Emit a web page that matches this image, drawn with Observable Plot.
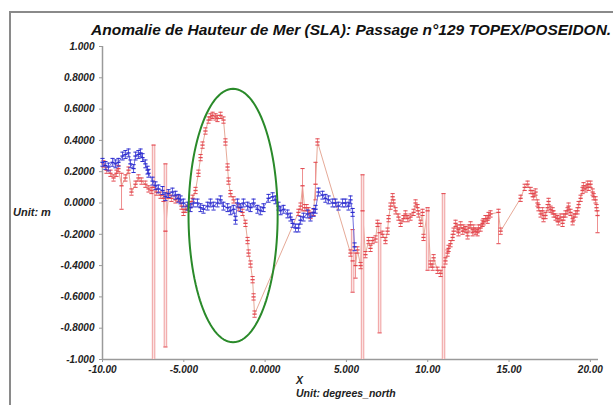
<!DOCTYPE html>
<html><head><meta charset="utf-8">
<script src="https://cdn.jsdelivr.net/npm/d3@7"></script>
<script src="https://cdn.jsdelivr.net/npm/@observablehq/plot@0.6"></script>
<style>
html,body{margin:0;padding:0;background:#fff;overflow:hidden;}
#wrap{position:relative;width:613px;height:405px;overflow:hidden;}
#chart{position:absolute;left:0;top:0;}
#frame{position:absolute;left:9px;top:11px;width:700px;height:500px;border:2px solid #8a8a8a;}
#title{position:absolute;left:91px;top:21px;font:italic bold 15.5px "Liberation Sans",Arial,sans-serif;color:#111;white-space:nowrap;}
.lab{position:absolute;font-style:italic;font-weight:bold;font-family:"Liberation Sans",Arial,sans-serif;color:#222;white-space:nowrap;}
</style></head><body>
<div id="wrap">
<div id="chart"></div>
<div id="frame"></div>
<div id="title">Anomalie de Hauteur de Mer (SLA): Passage n°129 TOPEX/POSEIDON.</div>
<div class="lab" style="left:13px;top:206px;font-size:11px">Unit: m</div>
<div class="lab" style="left:296px;top:374px;font-size:10.5px">X</div>
<div class="lab" style="left:296px;top:387px;font-size:10.5px">Unit: degrees_north</div>
</div>
<script>
// ---- data: red series (points with error bars) ----
const redX = [
 -9.94,-9.75,-9.51,-9.32,-9.14,-9.02,-8.83,-8.59,-8.40,-8.22,-7.97,-7.79,-7.60,-7.36,-7.17,-6.99,-6.86,-6.68,-6.43,-6.25,-6.13,-5.94,-5.76,-5.51,-5.33,-5.14,-5.02,
 -4.90,-4.71,-4.59,-4.46,-4.28,-4.10,-3.97,-3.85,-3.67,-3.48,-3.36,-3.23,-3.05,-2.93,-2.74,-2.56,-2.44,-2.31,-2.25,-2.13,-1.94,-1.64,-1.39,-1.21,-1.08,-1.02,-0.90,-0.77,-0.71,-0.65,
 2.05,2.18,2.30,2.43,2.55,2.67,2.79,2.98,3.10,3.22,
 5.25,5.38,5.56,5.68,5.87,5.99,6.17,6.36,6.48,6.61,6.79,6.91,7.04,7.22,7.40,7.53,7.59,7.71,7.84,7.90,8.02,8.20,8.33,8.51,8.63,8.76,8.94,9.13,9.25,9.37,9.43,9.56,9.68,9.74,9.99,10.17,10.30,10.36,10.60,10.79,10.97,11.09,11.22,11.28,11.40,11.53,11.59,11.71,11.83,11.89,12.02,12.14,12.20,12.33,12.45,12.51,12.63,12.76,12.82,12.94,13.06,13.12,13.25,13.37,13.43,13.55,13.68,13.74,13.86,
 14.35,14.48,15.71,15.96,16.14,16.33,16.45,16.51,16.63,16.75,16.81,16.94,17.06,17.12,17.24,17.37,17.43,17.55,17.68,17.74,17.86,17.98,18.04,18.17,18.29,18.35,18.47,18.60,18.66,18.78,18.91,18.97,19.09,19.21,19.28,19.40,19.52,19.58,19.71,19.83,19.89,20.01,20.14,20.20,20.32,20.38,20.44
];
const redY = [
 0.25,0.21,0.19,0.16,0.19,0.22,0.11,0.16,0.21,0.07,0.12,0.16,0.14,0.12,0.09,0.08,0.10,0.07,0.05,0.03,-0.18,0.05,0.03,0.02,0.03,-0.02,-0.06,
 -0.04,-0.03,-0.01,0.03,0.08,0.19,0.29,0.37,0.46,0.53,0.55,0.56,0.55,0.54,0.56,0.53,0.39,0.23,0.14,0.06,0.02,-0.03,-0.06,-0.13,-0.24,-0.32,-0.39,-0.49,-0.60,-0.71,
 -0.06,-0.02,0.11,-0.03,-0.03,-0.05,-0.08,-0.06,0.12,0.39,
 -0.32,-0.37,-0.40,-0.30,-0.40,-0.05,-0.33,-0.24,-0.29,-0.24,-0.23,-0.13,-0.19,-0.20,-0.24,-0.18,-0.10,-0.02,0.04,0.00,-0.05,-0.09,-0.13,-0.10,-0.07,-0.10,-0.09,-0.06,0.00,-0.03,-0.07,-0.13,-0.06,-0.22,-0.05,-0.39,-0.41,-0.35,-0.43,-0.45,-0.41,-0.37,-0.32,-0.29,-0.26,-0.22,-0.18,-0.13,-0.16,-0.19,-0.14,-0.18,-0.16,-0.17,-0.21,-0.16,-0.14,-0.19,-0.16,-0.18,-0.19,-0.16,-0.16,-0.13,-0.12,-0.10,-0.11,-0.08,-0.07,
 -0.06,-0.18,0.03,0.10,0.12,0.08,0.06,0.04,0.07,0.00,-0.03,-0.07,-0.05,-0.10,-0.08,-0.03,0.01,-0.04,-0.05,-0.07,-0.09,-0.10,-0.12,-0.09,-0.13,-0.09,-0.07,-0.05,-0.02,-0.06,-0.12,-0.09,-0.07,-0.05,-0.01,0.03,0.08,0.11,0.09,0.12,0.10,0.12,0.07,0.04,0.02,-0.03,-0.08
];
const redErr = 0.02; // typical half-height of the red error bars
// larger red error bars (x, low, high)
const redBarX  = [-8.83,-6.86,-6.13, 2.30, 3.10, 5.38, 5.56, 5.99, 7.04, 9.99,10.97,14.35,20.44];
const redBarLo = [-0.04,-1.10,-0.92,-0.05, 0.02,-0.57,-0.48,-1.10,-0.83,-0.43,-1.10,-0.26,-0.19];
const redBarHi = [ 0.19, 0.37, 0.25, 0.22, 0.26,-0.17,-0.32, 0.18,-0.13,-0.03, 0.06,-0.04,-0.05];

// ---- data: blue series ----
const blueX = [
 -10.00,-9.82,-9.63,-9.38,-9.20,-9.02,-8.77,-8.59,-8.40,-8.28,-8.09,-7.97,-7.79,-7.66,-7.54,-7.36,-7.23,-7.17,-6.92,-6.74,-6.56,-6.31,-6.13,-5.94,-5.70,-5.51,-5.33,-5.20,-5.02,
 -4.77,-4.59,-4.40,-4.16,-3.97,-3.79,-3.54,-3.36,-3.17,-2.93,-2.74,-2.56,-2.31,-2.13,-1.94,-1.82,-1.70,-1.51,-1.33,-1.08,-0.90,-0.71,-0.47,-0.28,-0.10,
 0.21,0.46,0.64,0.82,0.95,1.13,1.38,1.56,1.69,1.87,2.05,2.18,2.36,2.61,2.79,2.98,3.10,3.28,3.53,3.71,3.90,4.15,4.33,4.51,4.76,4.94,5.13,5.25,5.38,5.50
];
const blueY = [
 0.26,0.24,0.23,0.26,0.25,0.26,0.30,0.31,0.32,0.25,0.22,0.30,0.31,0.32,0.29,0.25,0.21,0.19,0.14,0.11,0.09,0.08,0.04,0.06,0.07,0.05,0.03,0.02,0.00,
 -0.02,-0.03,0.00,0.00,-0.03,-0.04,-0.02,0.00,-0.02,0.00,0.02,-0.02,-0.03,-0.05,-0.04,-0.11,0.00,-0.03,0.00,-0.02,-0.03,0.00,-0.04,-0.05,-0.03,
 0.03,0.04,0.02,-0.02,-0.05,-0.04,-0.07,-0.09,-0.13,-0.16,-0.16,-0.11,-0.09,-0.07,-0.09,-0.06,-0.04,0.07,0.05,0.03,0.02,0.00,0.00,-0.02,0.00,0.00,-0.02,0.02,-0.06,-0.28
];
const blueErr = 0.025;

// ---- axes ----
const xTicks = [-10,-5,0,5,10,15,20];
const xTickLabels = ["-10.00","-5.000","0.0000","5.000","10.00","15.00","20.00"];
const yTicks = [1,0.8,0.6,0.4,0.2,0,-0.2,-0.4,-0.6,-0.8,-1];
const yTickLabels = ["1.000","0.8000","0.6000","0.4000","0.2000","0.0000","-0.2000","-0.4000","-0.6000","-0.8000","-1.000"];

// ---- annotation ellipse (data units) ----
const ellipseCenter = [-1.97, -0.08];
const ellipseRadii = [2.74, 0.81];

const red = redX.map((x, i) => {
  const j = redBarX.indexOf(x);
  return {x, y: redY[i], lo: j >= 0 ? redBarLo[j] : redY[i] - redErr, hi: j >= 0 ? redBarHi[j] : redY[i] + redErr};
});
const redLong = red.filter(d => d.hi - d.lo > 0.3);
const blue = blueX.map((x, i) => ({x, y: blueY[i], lo: blueY[i] - blueErr, hi: blueY[i] + blueErr}));
const caps = s => s.flatMap(d => [{x: d.x, y: d.lo}, {x: d.x, y: d.hi}]).filter(d => d.y >= -1 && d.y <= 1);
const ellipse = d3.range(0, 361, 3).map(a => ({
  x: ellipseCenter[0] + ellipseRadii[0] * Math.cos(a * Math.PI / 180),
  y: ellipseCenter[1] + ellipseRadii[1] * Math.sin(a * Math.PI / 180)
}));
const dash = {draw(ctx, size) { const r = Math.sqrt(size / Math.PI); ctx.moveTo(-r, 0); ctx.lineTo(r, 0); }};

const chart = Plot.plot({
  width: 613, height: 405,
  marginLeft: 102, marginRight: 15, marginTop: 46, marginBottom: 46,
  x: {domain: [-10, 20.5]},
  y: {domain: [-1, 1]},
  style: {fontFamily: '"Liberation Sans", Arial, sans-serif', fontSize: "10px", fontStyle: "italic", fontWeight: "bold", background: "transparent", overflow: "visible"},
  marks: [
    Plot.axisX(xTicks, {tickFormat: d => xTickLabels[xTicks.indexOf(d)], tickSize: 3, tickPadding: 3, stroke: "#999", fill: "#222", label: null}),
    Plot.axisY(yTicks, {tickFormat: d => yTickLabels[yTicks.indexOf(d)], tickSize: 3, tickPadding: 5, stroke: "#999", fill: "#222", label: null}),
    Plot.ruleX([-10], {stroke: "#9a9a9a", strokeWidth: 1.5}),
    Plot.ruleY([-1], {stroke: "#9a9a9a", strokeWidth: 1.5}),
    // red series
    Plot.line(red, {x: "x", y: "y", stroke: "#e6aa98", strokeWidth: 1, clip: true}),
    Plot.ruleX(redLong, {x: "x", y1: "lo", y2: "hi", stroke: "#f0a2a2", strokeWidth: 3.5, clip: true}),
    Plot.ruleX(redLong, {x: "x", y1: "lo", y2: "hi", stroke: "#fbe3e3", strokeWidth: 1.5, clip: true}),
    Plot.ruleX(red, {x: "x", y1: "lo", y2: "hi", stroke: "#ee9090", strokeWidth: 1, clip: true, filter: d => d.hi - d.lo <= 0.3}),
    Plot.dot(caps(red), {x: "x", y: "y", symbol: dash, r: 2.1, stroke: "#e3464e", fill: "none", strokeWidth: 1}),
    Plot.dot(red, {x: "x", y: "y", symbol: dash, r: 2.1, stroke: "#e3464e", fill: "none", strokeWidth: 1.3}),
    // blue series
    Plot.line(blue, {x: "x", y: "y", stroke: "#7070e0", strokeWidth: 1}),
    Plot.ruleX(blue, {x: "x", y1: "lo", y2: "hi", stroke: "#5a5ad8", strokeWidth: 1}),
    Plot.dot(caps(blue), {x: "x", y: "y", symbol: dash, r: 2.1, stroke: "#2b2bd0", fill: "none", strokeWidth: 1}),
    Plot.dot(blue, {x: "x", y: "y", symbol: dash, r: 2.1, stroke: "#2b2bd0", fill: "none", strokeWidth: 1.3}),
    // annotation
    Plot.line(ellipse, {x: "x", y: "y", stroke: "#2a8a2a", strokeWidth: 2})
  ]
});
document.getElementById("chart").append(chart);
</script>
</body></html>
